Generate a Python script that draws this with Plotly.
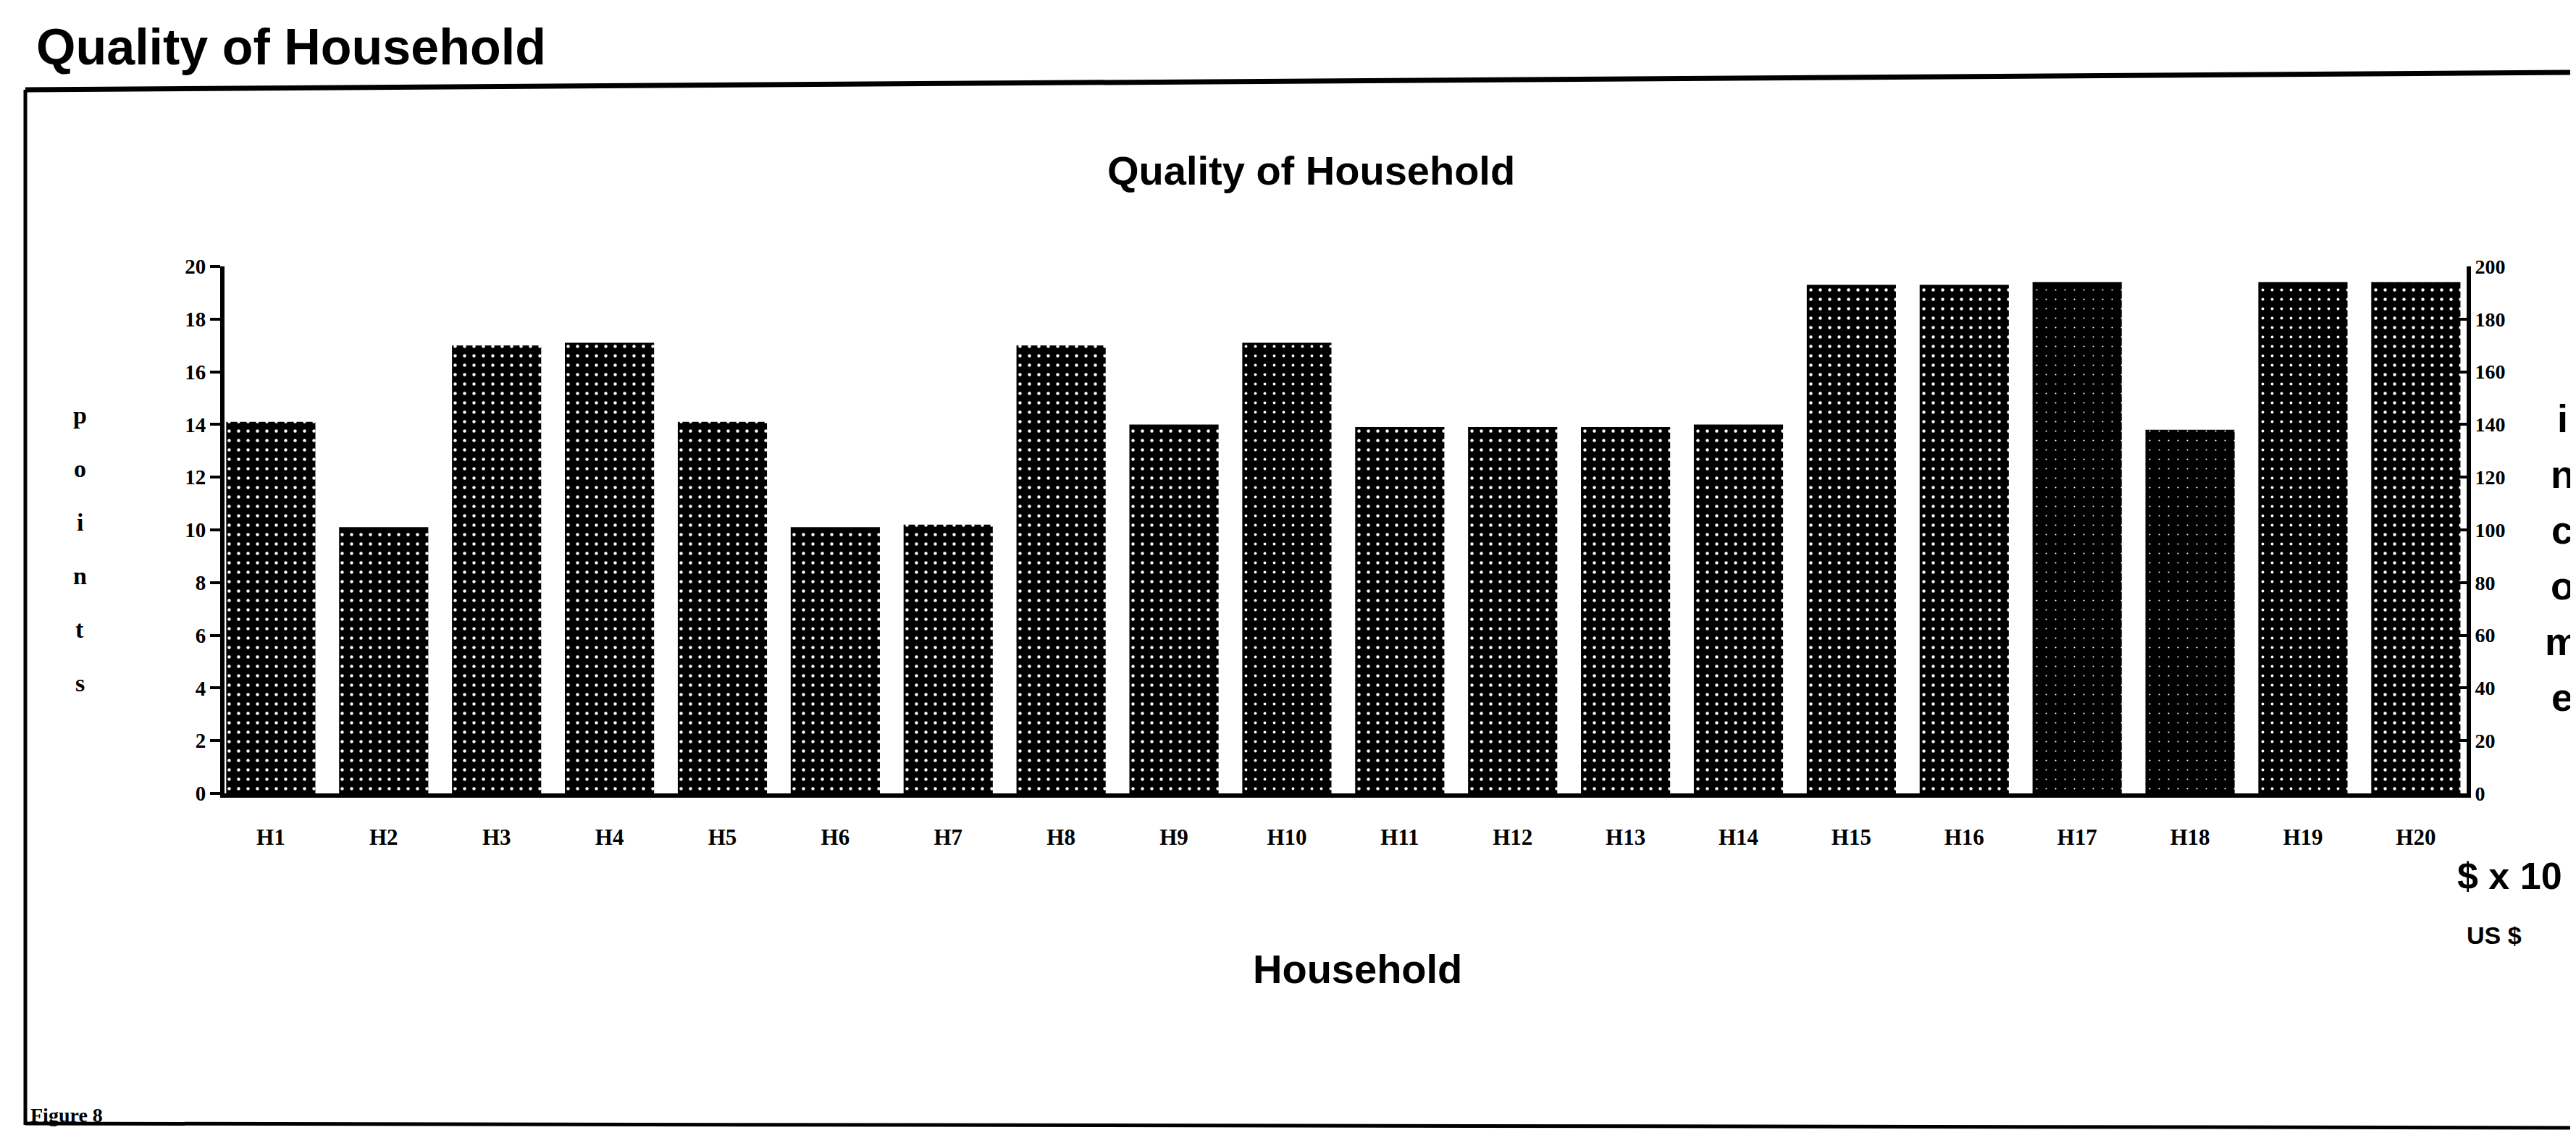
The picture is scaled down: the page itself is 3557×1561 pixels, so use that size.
import plotly.graph_objects as go

# ---- data ----
households = ["H1", "H2", "H3", "H4", "H5", "H6", "H7", "H8", "H9", "H10",
              "H11", "H12", "H13", "H14", "H15", "H16", "H17", "H18", "H19", "H20"]
points = [14.1, 10.1, 17.0, 17.1, 14.1, 10.1, 10.2, 17.0, 14.0, 17.1,
          13.9, 13.9, 13.9, 14.0, 19.3, 19.3, 19.4, 13.8, 19.4, 19.4]
speckle = [0.09, 0.09, 0.09, 0.09, 0.09, 0.09, 0.09, 0.09, 0.09, 0.07,
           0.09, 0.09, 0.09, 0.09, 0.09, 0.09, 0.02, 0.02, 0.07, 0.09]
points_ticks = [0, 2, 4, 6, 8, 10, 12, 14, 16, 18, 20]
income_ticks = [0, 20, 40, 60, 80, 100, 120, 140, 160, 180, 200]

# ---- geometry ----
W, H = 3557, 1561
L, R, T, B = 302, 159, 360, 473
PW, PH = W - L - R, H - T - B


def px(x):
    return (x - L) / PW


def py(y):
    return (H - B - y) / PH


SANS = "Liberation Sans"
SERIF = "Liberation Serif"

fig = go.Figure()
fig.add_trace(go.Bar(
    x=households, y=points,
    marker=dict(
        color="black",
        line=dict(width=0),
        pattern=dict(shape=".", fgcolor="white", bgcolor="black",
                     size=13, solidity=speckle, fillmode="replace"),
    ),
    showlegend=False,
))
# income axis companion (invisible)
fig.add_trace(go.Scatter(
    x=households, y=[v * 10 for v in points], yaxis="y2",
    mode="markers", marker=dict(opacity=0), hoverinfo="skip", showlegend=False,
))

fig.update_layout(
    width=W, height=H,
    margin=dict(l=L, r=R, t=T, b=B),
    paper_bgcolor="white", plot_bgcolor="white",
    bargap=0.21,
    xaxis=dict(
        range=[-0.41, 19.45], showline=True, linecolor="black", linewidth=6,
        ticks="", ticklabelstandoff=28, showgrid=False, zeroline=False,
        tickfont=dict(family=SERIF, size=31, color="black", weight="bold"),
    ),
    yaxis=dict(
        range=[0, 20], tickvals=points_ticks, ticktext=[str(v) for v in points_ticks],
        showline=True, linecolor="black", linewidth=6,
        ticks="outside", ticklen=14, tickwidth=4, tickcolor="black",
        showgrid=False, zeroline=False,
        tickfont=dict(family=SERIF, size=29, color="black", weight="bold"),
    ),
    yaxis2=dict(
        range=[0, 200], overlaying="y", side="right",
        tickvals=income_ticks, ticktext=[str(v) for v in income_ticks],
        showline=True, linecolor="black", linewidth=6,
        ticks="inside", ticklen=12, tickwidth=4, tickcolor="black",
        showgrid=False, zeroline=False,
        tickfont=dict(family=SERIF, size=28, color="black", weight="bold"),
    ),
)

ann = []
ann.append(dict(text="<b>Quality of Household</b>", x=px(40), y=py(57),
                xanchor="left", yanchor="middle",
                font=dict(family=SANS, size=70, color="black")))
ann.append(dict(text="<b>Quality of Household</b>", x=px(1802), y=py(228),
                xanchor="center", yanchor="middle",
                font=dict(family=SANS, size=56, color="black")))
ann.append(dict(text="<b>Household</b>", x=px(1866), y=py(1330),
                xanchor="center", yanchor="middle",
                font=dict(family=SANS, size=56, color="black")))
for i, ch in enumerate("points"):
    ann.append(dict(text="<b>" + ch + "</b>", x=px(102), y=py(565 + i * 74),
                    xanchor="center", yanchor="middle",
                    font=dict(family=SERIF, size=34, color="black")))
for i, ch in enumerate("income"):
    ann.append(dict(text="<b>" + ch + "</b>", x=px(3530), y=py(570 + i * 77),
                    xanchor="center", yanchor="middle",
                    font=dict(family=SANS, size=54, color="black")))
ann.append(dict(text="<b>$ x 10</b>", x=px(3383), y=py(1202),
                xanchor="left", yanchor="middle",
                font=dict(family=SANS, size=52, color="black")))
ann.append(dict(text="<b>US $</b>", x=px(3396), y=py(1284),
                xanchor="left", yanchor="middle",
                font=dict(family=SANS, size=34, color="black")))
ann.append(dict(text="<b>Figure 8</b>", x=px(32), y=py(1532),
                xanchor="left", yanchor="middle",
                font=dict(family=SERIF, size=28, color="black")))
for a in ann:
    a.update(xref="paper", yref="paper", showarrow=False)
fig.update_layout(annotations=ann)

# frame lines
shapes = [
    dict(type="line", x0=px(27), y0=py(116), x1=px(3557), y1=py(92),
         line=dict(color="black", width=7)),
    dict(type="line", x0=px(27), y0=py(116), x1=px(27), y1=py(1546),
         line=dict(color="black", width=5)),
    dict(type="line", x0=px(27), y0=py(1544), x1=px(3557), y1=py(1550),
         line=dict(color="black", width=5)),
]
for s in shapes:
    s.update(xref="paper", yref="paper")
fig.update_layout(shapes=shapes)

fig.write_html("out.html")
